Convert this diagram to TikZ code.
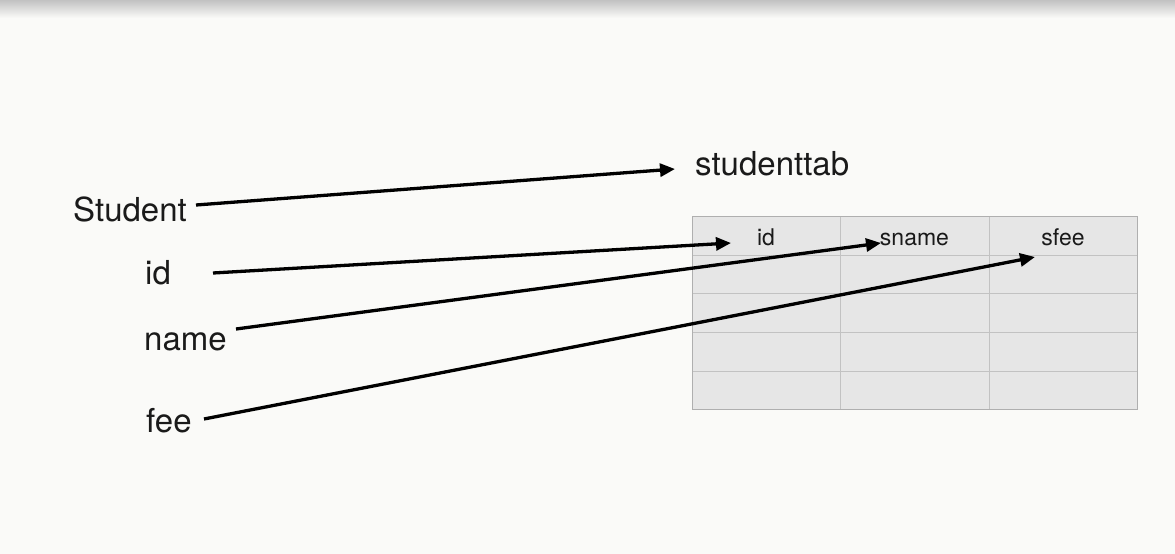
\documentclass[tikz,border=0pt]{standalone}
\usepackage{fontspec}
\setmainfont{TeX Gyre Heros}
\usetikzlibrary{arrows.meta}
\definecolor{bgc}{HTML}{FAFAF8}
\definecolor{cellfill}{HTML}{E6E6E6}
\definecolor{gridc}{HTML}{C2C2C2}
\definecolor{inkc}{HTML}{1A1A1A}
\tikzset{
  bigtext/.style={anchor=base west, inner sep=0pt, text=inkc, font=\fontsize{33}{39}\selectfont},
  celltext/.style={anchor=base, inner sep=0pt, text=inkc, font=\fontsize{23}{27}\selectfont},
  maparrow/.style={line width=3.3pt, draw=black, -{Triangle[length=15pt,width=13pt]}},
}
\begin{document}
\begin{tikzpicture}[x=1pt,y=-1pt]
\useasboundingbox (0,0) rectangle (1175,554);
\fill[bgc] (0,0) rectangle (1175,554);
\shade[top color=black!24, bottom color=bgc] (0,0) rectangle (1175,18);

% table
\fill[cellfill] (692,216) rectangle (1137,409);
\foreach \yy in {255,293,332,371} \draw[gridc, line width=1pt] (692,\yy) -- (1137,\yy);
\foreach \xx in {840,989} \draw[gridc, line width=1pt] (\xx,216) -- (\xx,409);
\draw[gridc!90!black, line width=1pt] (692,216) rectangle (1137,409);

% labels
\node[bigtext] (student) at (73,221) {Student};
\node[bigtext] (id) at (145,284) {id};
\node[bigtext] (name) at (144,350) {name};
\node[bigtext] (fee) at (146,432) {fee};
\node[bigtext] (tab) at (695,175) {studenttab};

\node[celltext] (cid) at (766,245) {id};
\node[celltext] (csname) at (914.5,245) {sname};
\node[celltext] (csfee) at (1063,245) {sfee};

% connector ends
\coordinate (s1) at (196,205);
\coordinate (s2) at (213,273);
\coordinate (s3) at (236,329);
\coordinate (s4) at (204,419);
\coordinate (e1) at (675,169);
\coordinate (e2) at (731,243);
\coordinate (e3) at (881,243);
\coordinate (e4) at (1035,257);

\draw[maparrow] (s1) -- (e1);
\draw[maparrow] (s2) -- (e2);
\draw[maparrow] (s3) -- (e3);
\draw[maparrow] (s4) -- (e4);
\end{tikzpicture}
\end{document}
